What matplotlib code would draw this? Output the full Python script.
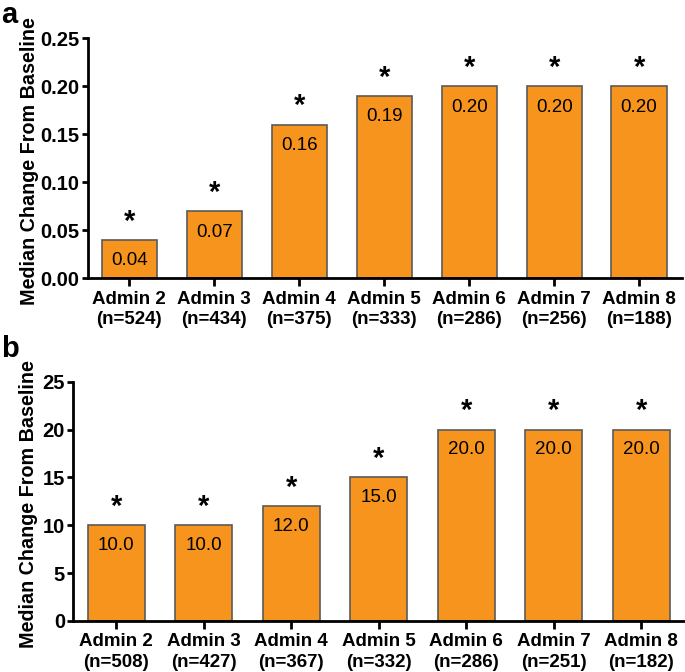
import matplotlib
matplotlib.use("Agg")
import matplotlib.pyplot as plt
import numpy as np

plt.rcParams['font.family'] = ['Liberation Sans', 'DejaVu Sans']

# Panel a
admins = ['Admin 2', 'Admin 3', 'Admin 4', 'Admin 5', 'Admin 6', 'Admin 7', 'Admin 8']
n_a = [524, 434, 375, 333, 286, 256, 188]
med_a = [0.04, 0.07, 0.16, 0.19, 0.20, 0.20, 0.20]
lab_a = ['0.04', '0.07', '0.16', '0.19', '0.20', '0.20', '0.20']

# Panel b
n_b = [508, 427, 367, 332, 286, 251, 182]
med_b = [10.0, 10.0, 12.0, 15.0, 20.0, 20.0, 20.0]
lab_b = ['10.0', '10.0', '12.0', '15.0', '20.0', '20.0', '20.0']

bar_color = '#F7941D'
edge_color = '#5a5a5a'

fig = plt.figure(figsize=(6.85, 6.72), dpi=100)
ax1 = fig.add_axes([0.128, 0.586, 0.867, 0.357])
ax2 = fig.add_axes([0.107, 0.076, 0.893, 0.356])


def draw(ax, vals, labels, ns, ymax, yticks, yfmt, inset, star_off, ylab_x):
    ind = np.arange(len(vals))
    ax.bar(ind, vals, 0.65, color=bar_color, edgecolor=edge_color, linewidth=1.2)
    for i, v in enumerate(vals):
        ax.text(i, v - inset, labels[i], ha='center', va='center', fontsize=13.5)
        ax.text(i, v + star_off, '*', ha='center', va='center', fontsize=21, fontweight='bold')
    ax.set_xlim(-0.49, 6.5)
    ax.set_ylim(0, ymax)
    ax.set_yticks(yticks)
    ax.set_yticklabels([yfmt.format(t) for t in yticks], fontsize=14.5, fontweight='bold')
    ax.set_xticks(ind)
    ax.set_xticklabels([f'{a}\n(n={n})' for a, n in zip(admins, ns)],
                       fontsize=13.5, fontweight='bold', linespacing=1.25)
    for s in ['top', 'right']:
        ax.spines[s].set_visible(False)
    for s in ['left', 'bottom']:
        ax.spines[s].set_linewidth(2)
    ax.tick_params(axis='y', width=2, length=4, direction='out', pad=2)
    ax.tick_params(axis='x', width=2, length=6, direction='out', pad=3)
    ax.set_ylabel('Median Change From Baseline', fontsize=14.2, fontweight='bold')
    ax.yaxis.set_label_coords(ylab_x, 0.49)


draw(ax1, med_a, lab_a, n_a, 0.25, np.arange(0, 0.26, 0.05), '{:.2f}', 0.022, 0.019, -0.082)
draw(ax2, med_b, lab_b, n_b, 25, np.arange(0, 26, 5), '{:.0f}', 2.1, 1.9, -0.058)

fig.text(0.002, 0.999, 'a', fontsize=21, fontweight='bold', va='top')
fig.text(0.002, 0.502, 'b', fontsize=21, fontweight='bold', va='top')

plt.savefig('out.png', dpi=100)
